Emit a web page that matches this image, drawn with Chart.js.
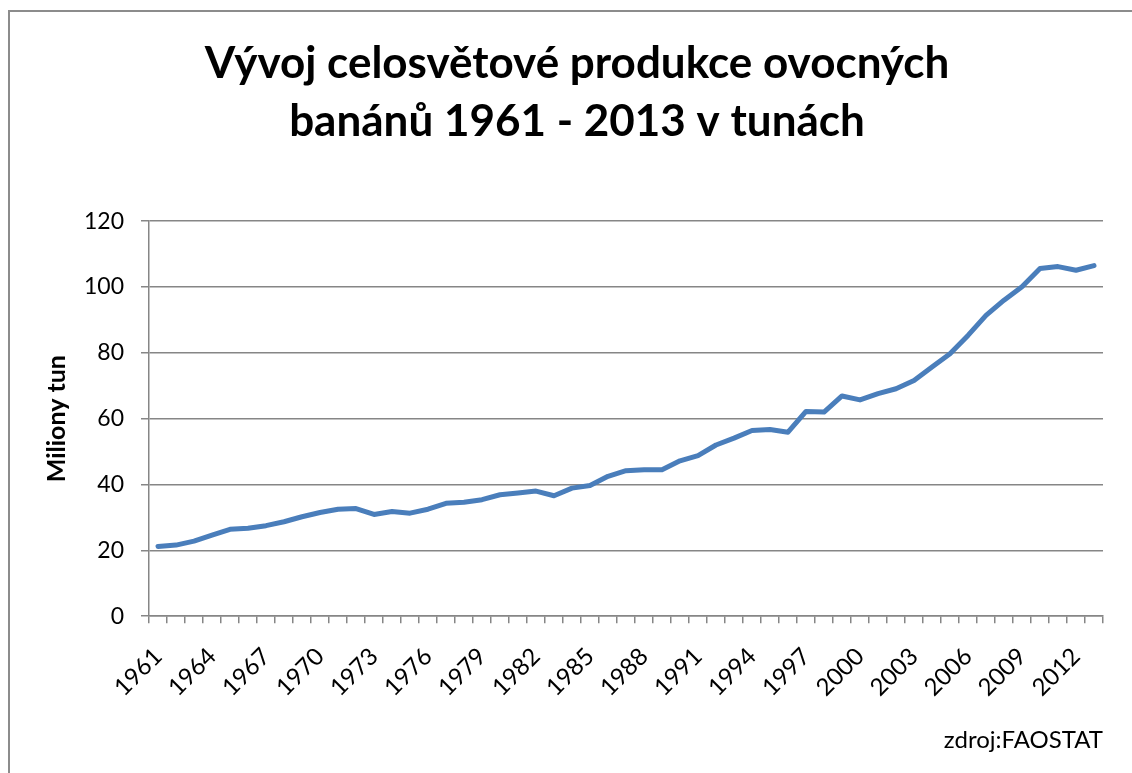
<!DOCTYPE html>
<html>
<head>
<meta charset="utf-8">
<script src="https://cdn.jsdelivr.net/npm/chart.js@4"></script>
<style>
  body { margin: 0; background: #fff; }
  #box {
    position: absolute; left: 8px; top: 10px;
    width: 1124px; height: 763px;
    border-left: 2px solid #8c8c8c; border-top: 2px solid #8c8c8c;
  }
  #wrap { position: absolute; left: 1px; top: 1px; width: 1123px; height: 762px; }
</style>
</head>
<body>
<div id="box"><div id="wrap"><canvas id="myChart"></canvas></div></div>
<script>
// roky 1961 - 2013
const years = [];
for (let y = 1961; y <= 2013; y++) years.push(String(y));

// produkce v milionech tun
const production = [
  21.2, 21.6, 22.8, 24.6, 26.4, 26.7, 27.5, 28.7, 30.2, 31.5,
  32.5, 32.7, 30.9, 31.8, 31.3, 32.5, 34.3, 34.6, 35.4, 36.9,
  37.4, 38.0, 36.6, 38.9, 39.7, 42.5, 44.2, 44.5, 44.5, 47.2,
  48.8, 52.0, 54.1, 56.4, 56.7, 55.9, 62.2, 62.0, 66.9, 65.7,
  67.6, 69.1, 71.6, 75.7, 79.7, 85.3, 91.4, 96.0, 100.1, 105.6,
  106.2, 105.1, 106.5
];

const yTicks = [0, 20, 40, 60, 80, 100, 120];

const gridColor = "#868686";
const font = "Lato, 'Open Sans', sans-serif";

var chart = new Chart("myChart", {
  type: "line",
  data: {
    labels: years,
    datasets: [{
      data: production,
      borderColor: "#4a7ebb",
      backgroundColor: "transparent",
      borderWidth: 5,
      pointRadius: 0,
      tension: 0,
      borderCapStyle: "round",
      borderJoinStyle: "round"
    }]
  },
  options: {
    responsive: true,
    maintainAspectRatio: false,
    animation: false,
    layout: { padding: { left: 40, right: 31, top: 0, bottom: 0 } },
    plugins: {
      legend: { display: false },
      tooltip: { enabled: false },
      title: {
        display: true,
        text: ["Vývoj celosvětové produkce ovocných", "banánů 1961 - 2013 v tunách"],
        color: "#000",
        font: { family: font, size: 44, weight: "bold", lineHeight: 1.32 },
        padding: { top: 22, bottom: 70 }
      },
      subtitle: {
        display: true,
        text: "zdroj:FAOSTAT",
        position: "bottom",
        align: "end",
        color: "#000",
        font: { family: font, size: 24, lineHeight: 1.2 },
        padding: { top: 0, bottom: 20 }
      }
    },
    scales: {
      x: {
        offset: true,
        grid: {
          offset: true,
          drawOnChartArea: false,
          drawTicks: true,
          tickLength: 7,
          color: gridColor,
          lineWidth: 1.5
        },
        border: { color: gridColor, width: 1.5 },
        ticks: {
          autoSkip: false,
          maxRotation: 45,
          minRotation: 45,
          padding: 19,
          color: "#000",
          font: { family: font, size: 24 },
          callback: function(val, i) { return i % 3 === 0 ? years[i] : ""; }
        },
        afterFit: function(scale) { scale.height = 110; }
      },
      y: {
        min: 0,
        max: 120,
        afterBuildTicks: function(scale) { scale.ticks = yTicks.map(v => ({ value: v })); },
        grid: { color: gridColor, lineWidth: 1.5, tickLength: 8 },
        border: { color: gridColor, width: 1.5 },
        ticks: {
          padding: 17,
          color: "#000",
          font: { family: font, size: 23 }
        },
        title: {
          display: true,
          text: "Miliony tun",
          color: "#000",
          font: { family: font, size: 25, weight: "bold", lineHeight: 1.2 },
          padding: { top: -9, bottom: 0 }
        },
        afterFit: function(scale) { scale.width = 98; }
      }
    }
  }
});
</script>
</body>
</html>
